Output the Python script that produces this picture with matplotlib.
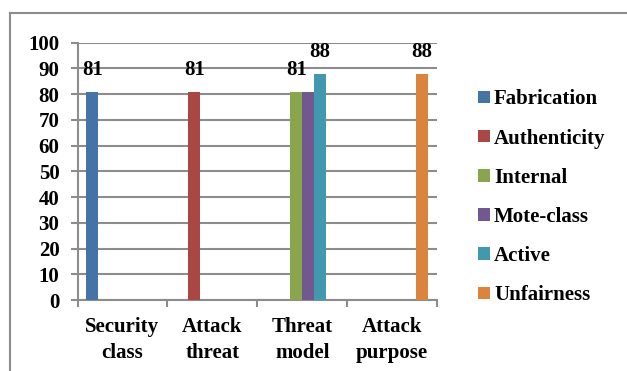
import matplotlib.pyplot as plt
from matplotlib.lines import Line2D
import numpy as np

categories = ["Security\nclass", "Attack\nthreat", "Threat\nmodel", "Attack\npurpose"]
series_names = ["Fabrication", "Authenticity", "Internal", "Mote-class", "Active", "Unfairness"]
fabrication = [81, 0, 0, 0]
authenticity = [0, 81, 0, 0]
internal = [0, 0, 81, 0]
mote_class = [0, 0, 81, 0]
active = [0, 0, 88, 0]
unfairness = [0, 0, 0, 88]
# value labels per series (mote-class label is not printed)
show_label = [True, True, True, False, True, True]

colors = ["#4572A7", "#AA4643", "#89A54E", "#71588F", "#4198AF", "#DB843D"]
grid_color = "#8C8C8C"

plt.rcParams["font.family"] = ["Liberation Serif", "DejaVu Serif"]
plt.rcParams["font.weight"] = "bold"
fs = 15

fig = plt.figure(figsize=(6.27, 3.71), dpi=100)
W, H = 627, 371
left, right, bottom, top = 77.5, 437, 300, 42.7
ax = fig.add_axes([left / W, 1 - bottom / H, (right - left) / W, (bottom - top) / H])

all_series = [fabrication, authenticity, internal, mote_class, active, unfairness]
x = np.arange(len(categories))
n = len(all_series)
group = 0.8
width = group / n
for i, (vals, name, col) in enumerate(zip(all_series, series_names, colors)):
    pos = x - group / 2 + (i + 0.5) * width
    bars = ax.bar(pos, vals, width, color=col, label=name, linewidth=0, zorder=3)
    if show_label[i]:
        labels = [str(v) if v > 0 else "" for v in vals]
        ax.bar_label(bars, labels=labels, padding=8, fontsize=fs, fontweight="bold")

ax.set_xlim(-0.5, len(categories) - 0.5)
ax.set_ylim(0, 100)
ax.set_yticks(range(0, 101, 10))
ax.yaxis.grid(True, color=grid_color, linewidth=1.5, zorder=0)
ax.set_axisbelow(True)

ax.set_xticks(x)
ax.set_xticklabels(categories, fontsize=fs, fontweight="bold", linespacing=1.4)
ax.tick_params(axis="x", length=0, pad=12)
# category separators below the axis
ax.set_xticks(np.arange(-0.5, len(categories)), minor=True)
ax.tick_params(axis="x", which="minor", length=5, width=1.5, color=grid_color, direction="out")
ax.tick_params(axis="y", length=5, width=1.5, color=grid_color, pad=8, labelsize=fs)
for lab in ax.get_yticklabels():
    lab.set_fontweight("bold")

for s in ["top", "right"]:
    ax.spines[s].set_visible(False)
for s in ["left", "bottom"]:
    ax.spines[s].set_color(grid_color)
    ax.spines[s].set_linewidth(1.5)

leg = ax.legend(loc="upper left", bbox_to_anchor=(468 / W, 1 - 79 / H),
                bbox_transform=fig.transFigure, frameon=False,
                prop={"size": fs, "weight": "bold"},
                handlelength=0.55, handleheight=0.55, handletextpad=0.2,
                labelspacing=0.92, borderpad=0)

# outer chart frame (top and left edges)
fig.add_artist(Line2D([9.5 / W, 1], [1 - 12.7 / H, 1 - 12.7 / H], color=grid_color, linewidth=1.5))
fig.add_artist(Line2D([9.5 / W, 9.5 / W], [0, 1 - 12.7 / H], color=grid_color, linewidth=1.5))

fig.savefig("out.png", dpi=100)
